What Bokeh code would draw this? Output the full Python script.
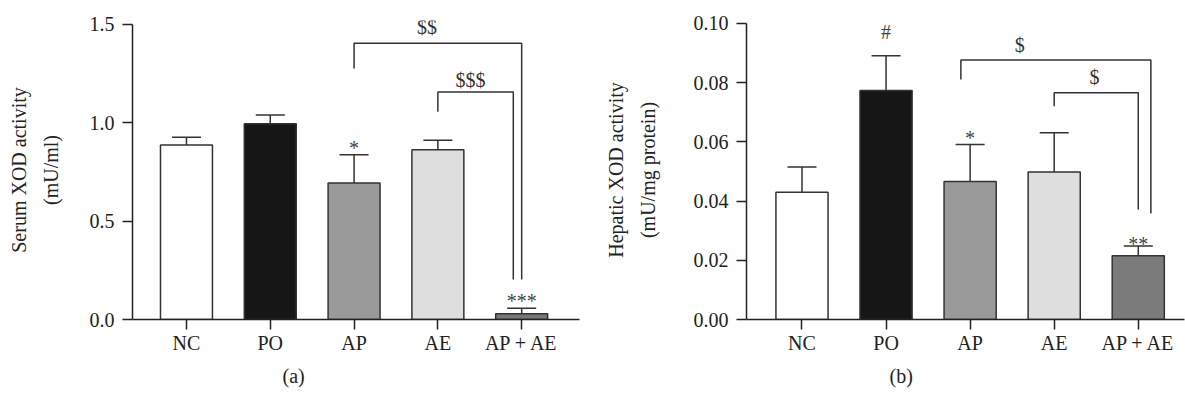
from bokeh.plotting import figure
from bokeh.models import (ColumnDataSource, FixedTicker, LinearAxis, Range1d, Whisker,
                          TeeHead, LabelSet, Title, NumeralTickFormatter)
from bokeh.layouts import row
from bokeh.embed import file_html
from bokeh.resources import INLINE

# ---------------- data ----------------
categories = ["NC", "PO", "AP", "AE", "AP + AE"]

serum_mean = [0.887, 0.995, 0.694, 0.863, 0.029]
serum_sem = [0.040, 0.045, 0.144, 0.048, 0.028]
serum_marks = ["", "", "*", "", "***"]

hepatic_mean = [0.0430, 0.0774, 0.0466, 0.0498, 0.0215]
hepatic_sem = [0.0085, 0.0117, 0.0125, 0.0133, 0.0033]
hepatic_marks = ["", "#", "*", "", "**"]

# significance brackets: left group, right group, top level, leg ends, label
serum_brackets_left = [2, 3]
serum_brackets_right = [4, 3.90]
serum_brackets_top = [1.405, 1.157]
serum_brackets_left_end = [1.276, 1.056]
serum_brackets_right_end = [0.203, 0.203]
serum_brackets_label = ["$$", "$$$"]
serum_brackets_label_x = [2.87, 3.39]
serum_brackets_label_y = [1.452, 1.184]

hepatic_brackets_left = [1.89, 3]
hepatic_brackets_right = [4.15, 4]
hepatic_brackets_top = [0.0877, 0.0766]
hepatic_brackets_left_end = [0.0811, 0.0720]
hepatic_brackets_right_end = [0.0358, 0.0372]
hepatic_brackets_label = ["$", "$"]
hepatic_brackets_label_x = [2.59, 3.48]
hepatic_brackets_label_y = [0.0904, 0.0795]

colors_a = ["#ffffff", "#161616", "#9a9a9a", "#dedede", "#787878"]
colors_b = ["#ffffff", "#161616", "#9a9a9a", "#dedede", "#7b7b7b"]

FONT = "Liberation Serif"
FS = "20px"
INK = "#222222"
LINE = "#333333"
mark_offsets = {"*": 0, "**": -5, "***": 0, "#": 17, "": 0}


def panel(mean, sem, marks, colors, b_l, b_r, b_top, b_le, b_re, b_lab, b_lx, b_ly,
          y_end, y_bound, y_ticks, fmt, title1, title2, x_start, x_end, width,
          border_left, border_top, border_bottom, std1, std2, caption, cap_offset):
    p = figure(width=width, height=397, output_backend="svg", toolbar_location=None,
               x_range=Range1d(x_start, x_end), y_range=Range1d(0, y_end),
               min_border_left=border_left, min_border_right=1,
               min_border_top=border_top, min_border_bottom=border_bottom)
    p.outline_line_color = None
    p.grid.visible = False
    p.background_fill_color = "white"

    xs = list(range(len(categories)))
    src = ColumnDataSource(dict(
        x=xs, mean=mean, upper=[m + s for m, s in zip(mean, sem)], color=colors,
        mark=marks, moff=[mark_offsets[m] for m in marks]))
    p.vbar(x="x", top="mean", bottom=0, width=0.62, fill_color="color",
           line_color=LINE, line_width=1.5, source=src)
    w = Whisker(base="x", lower="mean", upper="upper", source=src, dimension="height",
                lower_head=None,
                upper_head=TeeHead(size=29, line_color=LINE, line_width=1.5),
                line_color=LINE, line_width=1.5)
    p.add_layout(w)
    p.add_layout(LabelSet(x="x", y="upper", text="mark", y_offset="moff", source=src,
                          text_align="center", text_baseline="alphabetic",
                          text_font=FONT, text_font_size=FS, text_color="#444444"))

    bx = [[l, l, r, r] for l, r in zip(b_l, b_r)]
    by = [[le, t, t, re] for t, le, re in zip(b_top, b_le, b_re)]
    p.multi_line(xs=bx, ys=by, line_color=LINE, line_width=1.5)
    bsrc = ColumnDataSource(dict(x=b_lx, y=b_ly, t=b_lab))
    p.add_layout(LabelSet(x="x", y="y", text="t", source=bsrc, text_align="center",
                          text_baseline="alphabetic", text_font=FONT,
                          text_font_size=FS, text_color="#333333"))

    xa = p.xaxis[0]
    xa.ticker = FixedTicker(ticks=xs)
    xa.major_label_overrides = {i: c for i, c in enumerate(categories)}
    ya = p.yaxis[0]
    ya.ticker = FixedTicker(ticks=y_ticks)
    ya.formatter = NumeralTickFormatter(format=fmt)
    ya.bounds = (0, y_bound)
    for ax in (xa, ya):
        ax.axis_line_color = INK
        ax.axis_line_width = 1.5
        ax.major_tick_line_color = INK
        ax.major_tick_line_width = 1.5
        ax.major_tick_in = 0
        ax.major_tick_out = 10
        ax.minor_tick_line_color = None
        ax.major_label_text_font = FONT
        ax.major_label_text_font_size = FS
        ax.major_label_text_color = INK
    xa.major_label_standoff = 2
    ya.major_label_standoff = 8
    ya.axis_label = title2
    ya.axis_label_standoff = std1
    ya.axis_label_text_font = FONT
    ya.axis_label_text_font_size = FS
    ya.axis_label_text_font_style = "normal"
    ya.axis_label_text_color = INK

    extra = LinearAxis(ticker=FixedTicker(ticks=[]), axis_label=title1,
                       axis_line_color=None, major_tick_line_color=None,
                       minor_tick_line_color=None, axis_label_standoff=std2,
                       axis_label_text_font=FONT, axis_label_text_font_size=FS,
                       axis_label_text_font_style="normal", axis_label_text_color=INK)
    p.add_layout(extra, "left")

    cap = Title(text=caption, align="left", offset=cap_offset, text_font=FONT,
                text_font_size=FS, text_font_style="normal", text_color=INK,
                text_line_height=0.7, standoff=12)
    p.add_layout(cap, "below")
    return p


pa = panel(serum_mean, serum_sem, serum_marks, colors_a,
           serum_brackets_left, serum_brackets_right, serum_brackets_top,
           serum_brackets_left_end, serum_brackets_right_end, serum_brackets_label,
           serum_brackets_label_x, serum_brackets_label_y,
           1.5203, 1.5, [0, 0.5, 1.0, 1.5], "0.0", "Serum XOD activity", "(mU/ml)",
           -0.644, 4.69, 580, 132, 20, 77, 25, 7, "(a)", 150)

pb = panel(hepatic_mean, hepatic_sem, hepatic_marks, colors_b,
           hepatic_brackets_left, hepatic_brackets_right, hepatic_brackets_top,
           hepatic_brackets_left_end, hepatic_brackets_right_end, hepatic_brackets_label,
           hepatic_brackets_label_x, hepatic_brackets_label_y,
           0.10101, 0.1, [0, 0.02, 0.04, 0.06, 0.08, 0.10], "0.00",
           "Hepatic XOD activity", "(mU/mg protein)", -0.66, 4.55, 605, 166, 20, 78,
           32, 7, "(b)", 143)

layout = row(pa, pb)
open("out.html", "w").write(file_html(layout, INLINE))
